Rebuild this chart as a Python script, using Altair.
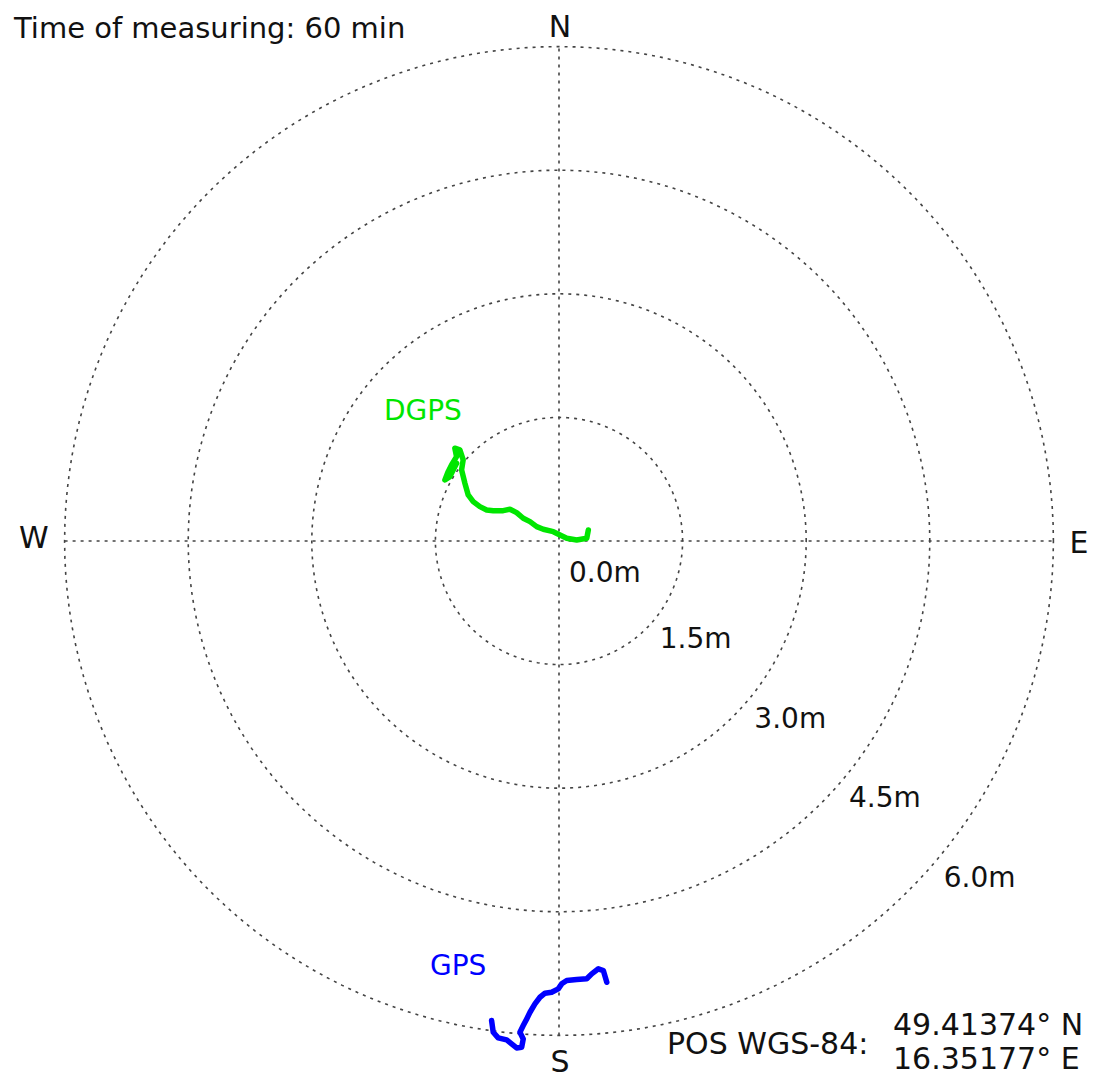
import altair as alt
import pandas as pd
import numpy as np

# ---------------- data ----------------
ring_values = [1.5, 3.0, 4.5, 6.0]
ring_labels = ["1.5m", "3.0m", "4.5m", "6.0m"]
center_label = ["0.0m"]

compass_labels = ["N", "E", "S", "W"]

dgps_x = [0.356, 0.337, 0.215, 0.094, 0.012, -0.069, -0.191, -0.271, -0.352, -0.434,
          -0.514, -0.595, -0.677, -0.798, -0.878, -0.960, -1.041, -1.102, -1.142, -1.182,
          -1.163, -1.203, -1.264, -1.243, -1.304, -1.345, -1.385, -1.324, -1.243]
dgps_y = [0.134, 0.033, 0.012, 0.033, 0.073, 0.113, 0.142, 0.174, 0.235, 0.276,
          0.344, 0.385, 0.368, 0.368, 0.377, 0.417, 0.478, 0.559, 0.701, 0.863,
          0.984, 1.106, 1.126, 1.024, 0.923, 0.842, 0.741, 0.781, 0.944]

gps_x = [0.580, 0.538, 0.478, 0.397, 0.337, 0.215, 0.094, 0.033, -0.009, -0.089,
         -0.170, -0.231, -0.292, -0.352, -0.392, -0.434, -0.474, -0.434, -0.453, -0.514,
         -0.575, -0.635, -0.738, -0.798, -0.818]
gps_y = [-5.355, -5.213, -5.192, -5.253, -5.313, -5.322, -5.334, -5.374, -5.435, -5.476,
         -5.488, -5.537, -5.617, -5.719, -5.800, -5.881, -5.962, -6.043, -6.145, -6.152,
         -6.103, -6.055, -6.030, -5.962, -5.820]

series_names = ["DGPS", "GPS"]
series_label_x = [-2.124, -1.566]
series_label_y = [1.468, -5.267]

title_text = "Time of measuring: 60 min"
pos_label = "POS WGS-84:"
pos_lat = "49.41374° N"
pos_lon = "16.35177° E"

# ---------------- layout ----------------
W, H = 1080, 1070
K = 82.4
CX, CY = 551, 533
XDOM = [-CX / K, (W - CX) / K]
YDOM = [-(H - CY) / K, CY / K]

FONT = "DejaVu Sans"
GRID = "#444444"
TEXT = "#111111"
GREEN = "#00e600"
BLUE = "#0000ff"

xs = alt.Scale(domain=XDOM, nice=False, zero=False)
ys = alt.Scale(domain=YDOM, nice=False, zero=False)

# circle outlines (geometry only)
angles = np.arange(0, 361, 2)
circ = pd.DataFrame([(r, a) for r in ring_values for a in angles], columns=["r", "deg"])
circ["x"] = circ["r"] * np.cos(np.radians(circ["deg"]))
circ["y"] = circ["r"] * np.sin(np.radians(circ["deg"]))

circles = alt.Chart(circ).mark_line(
    color=GRID, strokeWidth=1.6, strokeDash=[3, 5]
).encode(
    x=alt.X("x:Q", scale=xs, axis=None),
    y=alt.Y("y:Q", scale=ys, axis=None),
    detail="r:N",
    order="deg:Q",
)

rmax = max(ring_values)
axes_df = pd.DataFrame({"x": [-rmax, 0], "x2": [rmax, 0], "y": [0, -rmax], "y2": [0, rmax]})
axes_lines = alt.Chart(axes_df).mark_rule(
    color=GRID, strokeWidth=1.6, strokeDash=[3, 5]
).encode(
    x=alt.X("x:Q", scale=xs, axis=None), x2="x2:Q",
    y=alt.Y("y:Q", scale=ys, axis=None), y2="y2:Q",
)

def trace(xv, yv, color):
    df = pd.DataFrame({"x": xv, "y": yv, "i": range(len(xv))})
    return alt.Chart(df).mark_line(
        color=color, strokeWidth=5.5, strokeJoin="round", strokeCap="round"
    ).encode(
        x=alt.X("x:Q", scale=xs, axis=None),
        y=alt.Y("y:Q", scale=ys, axis=None),
        order="i:Q",
    )

dgps_line = trace(dgps_x, dgps_y, GREEN)
gps_line = trace(gps_x, gps_y, BLUE)

lab_df = pd.DataFrame({"name": series_names, "x": series_label_x, "y": series_label_y,
                       "c": [GREEN, BLUE]})
series_text = alt.Chart(lab_df).mark_text(
    font=FONT, fontSize=28, align="left", baseline="alphabetic"
).encode(
    x=alt.X("x:Q", scale=xs, axis=None),
    y=alt.Y("y:Q", scale=ys, axis=None),
    text="name:N",
    color=alt.Color("c:N", scale=None),
)

# ring labels along a 40 degree diagonal below east
rl = pd.DataFrame({"r": ring_values, "t": ring_labels})
ring_text = alt.Chart(rl).transform_calculate(
    x="datum.r * cos(40 * PI / 180)", y="-datum.r * sin(40 * PI / 180)"
).mark_text(
    font=FONT, fontSize=28, align="left", baseline="alphabetic", dx=6, dy=28, color=TEXT
).encode(
    x=alt.X("x:Q", scale=xs, axis=None),
    y=alt.Y("y:Q", scale=ys, axis=None),
    text="t:N",
)

center_text = alt.Chart(pd.DataFrame({"t": center_label, "x": [0.0], "y": [0.0]})).mark_text(
    font=FONT, fontSize=28, align="left", baseline="alphabetic", dx=10, dy=41, color=TEXT
).encode(
    x=alt.X("x:Q", scale=xs, axis=None),
    y=alt.Y("y:Q", scale=ys, axis=None),
    text="t:N",
)

def compass_text(label, x, y, align, dx, dy):
    return alt.Chart(pd.DataFrame({"t": [label], "x": [x], "y": [y]})).mark_text(
        font=FONT, fontSize=30, align=align, baseline="alphabetic", dx=dx, dy=dy, color=TEXT
    ).encode(
        x=alt.X("x:Q", scale=xs, axis=None),
        y=alt.Y("y:Q", scale=ys, axis=None),
        text="t:N",
    )

n_t = compass_text(compass_labels[0], 0, rmax, "center", 1, -10)
e_t = compass_text(compass_labels[1], rmax, 0, "left", 16, 12)
s_t = compass_text(compass_labels[2], 0, -rmax, "center", 1, 37)
w_t = compass_text(compass_labels[3], -rmax, 0, "right", -16, 7)

def pixel_text(label, px, py, size):
    return alt.Chart(pd.DataFrame({"t": [label]})).mark_text(
        font=FONT, fontSize=size, align="left", baseline="alphabetic", color=TEXT
    ).encode(x=alt.value(px), y=alt.value(py), text="t:N")

title_t = pixel_text(title_text, 6, 30, 29)
pos_t = pixel_text(pos_label, 659, 1046, 30)
lat_t = pixel_text(pos_lat, 885, 1027, 30)
lon_t = pixel_text(pos_lon, 885, 1061, 30)

chart = alt.layer(
    circles, axes_lines, dgps_line, gps_line, series_text, ring_text, center_text,
    n_t, e_t, s_t, w_t, title_t, pos_t, lat_t, lon_t
).properties(
    width=W, height=H, padding=0,
    autosize=alt.AutoSizeParams(type="none"),
    background="white",
).configure_view(stroke=None)

chart.save("out.html", embed_options={"renderer": "svg", "actions": False})
